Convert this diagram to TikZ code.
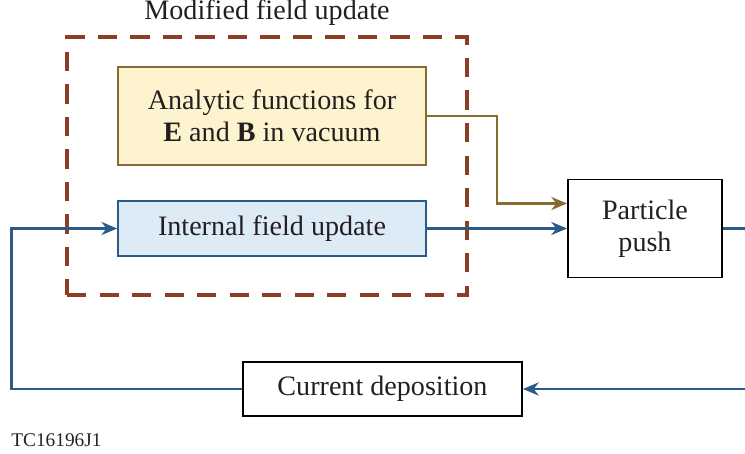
\documentclass[tikz,border=0pt]{standalone}
\usepackage{fontspec}
\setmainfont{Liberation Serif}
\usetikzlibrary{arrows.meta}
\definecolor{dashbrown}{RGB}{139,62,35}
\definecolor{goldline}{RGB}{134,108,48}
\definecolor{goldfill}{RGB}{254,243,207}
\definecolor{blueline}{RGB}{42,91,138}
\definecolor{bluefill}{RGB}{221,235,246}
\definecolor{inkgray}{RGB}{35,31,32}
\begin{document}
\begin{tikzpicture}[scale=0.2]
    \tikzstyle{every node}+=[inner sep=0pt, text=inkgray, font=\fontsize{16}{18}\selectfont]
    \tikzstyle{block}=[draw=black, line width=1.1pt, align=center]
    \tikzstyle{yellowblock}=[draw=goldline, fill=goldfill, line width=0.9pt, align=center, minimum width=6.16cm, minimum height=1.96cm]
    \tikzstyle{blueblock}=[draw=blueline, fill=bluefill, line width=0.9pt, minimum width=6.16cm, minimum height=1.1cm]
    \tikzstyle{groupbox}=[draw=dashbrown, line width=2pt, dash pattern=on 11pt off 7.5pt, minimum width=8cm, minimum height=5.16cm]
    \tikzstyle{blueflow}=[draw=blueline, line width=1.2pt, -{Stealth[length=9pt,width=7.5pt]}]
    \tikzstyle{goldflow}=[draw=goldline, line width=1.2pt, -{Stealth[length=9pt,width=7.5pt]}]
    \useasboundingbox (0,0) rectangle (74.5,-45.4);
    % modified field update group
    \node [groupbox] (fieldgroup) at (26.7,-16.6) {};
    \node (grouplabel) at (26.7,-1.3) {Modified field update};
    \node [yellowblock] (analytic) at (27.2,-11.6) {Analytic functions for\\\textbf{E} and \textbf{B} in vacuum};
    \node [blueblock] (internal) at (27.2,-22.85) {Internal field update};
    % other stages
    \node [block, minimum width=3.08cm, minimum height=1.96cm] (push) at (64.5,-22.85) {Particle\\push};
    \node [block, minimum width=5.58cm, minimum height=1.08cm] (current) at (38.25,-38.9) {Current deposition};
    \node [anchor=west, font=\fontsize{11}{13}\selectfont] (tclabel) at (1.1,-44.0) {TC16196J1};
    % connectors
    \coordinate (rightout) at (74.5,-22.85);
    \coordinate (rightin) at (74.5,-38.9);
    \coordinate (leftx) at (1.15,0);
    \coordinate (goldbend) at (49.7,-20.35);
    \draw [goldflow] (analytic.east) -| (goldbend) -- (goldbend -| push.west);
    \draw [blueflow] (internal.east) -- (push.west);
    \draw [draw=blueline, line width=1.2pt] (push.east) -- (rightout);
    \draw [blueflow] (rightin) -- (current.east);
    \draw [blueflow] (current.west) -- (current.west -| leftx) |- (internal.west);
\end{tikzpicture}
\end{document}
